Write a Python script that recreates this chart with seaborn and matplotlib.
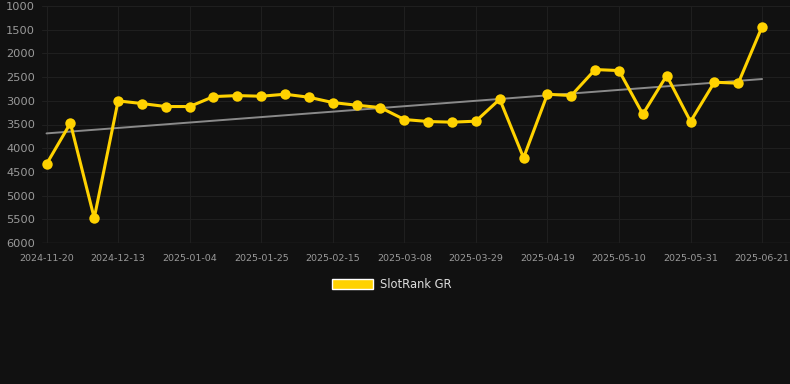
import numpy as np
import pandas as pd
import matplotlib
matplotlib.use("Agg")
import matplotlib.pyplot as plt
import seaborn as sns
from matplotlib.patches import Patch

dates = ['2024-11-20', '2024-11-28', '2024-12-05', '2024-12-13', '2024-12-21', '2024-12-28',
         '2025-01-04', '2025-01-11', '2025-01-18', '2025-01-25', '2025-02-01', '2025-02-08',
         '2025-02-15', '2025-02-22', '2025-03-01', '2025-03-08', '2025-03-15', '2025-03-22',
         '2025-03-29', '2025-04-05', '2025-04-12', '2025-04-19', '2025-04-26', '2025-05-03',
         '2025-05-10', '2025-05-17', '2025-05-24', '2025-05-31', '2025-06-07', '2025-06-14',
         '2025-06-21']
rank = [4335, 3472, 5474, 3002, 3058, 3121, 3121, 2911, 2890, 2904, 2861, 2925,
        3037, 3093, 3143, 3395, 3437, 3451, 3430, 2966, 4203, 2861, 2890, 2341,
        2362, 3282, 2468, 3437, 2608, 2629, 1436]
y_ticks = [1000, 1500, 2000, 2500, 3000, 3500, 4000, 4500, 5000, 5500, 6000]

bg = '#111111'
gold = '#FFD200'

df = pd.DataFrame({'date': dates, 'rank': rank})
df['idx'] = np.arange(len(df))

# linear trend of the series
slope, icpt = np.polyfit(df['idx'], df['rank'], 1)
trend = pd.DataFrame({'idx': [0, len(df) - 1]})
trend['rank'] = icpt + slope * trend['idx']

sns.set_style('dark')
plt.rcParams['font.family'] = ['DejaVu Sans']

fig = plt.figure(figsize=(7.9, 3.84), dpi=100, facecolor=bg)
ax = fig.add_axes([42 / 790, 1 - 243 / 384, 748 / 790, 237 / 384])
ax.set_facecolor(bg)

sns.lineplot(data=trend, x='idx', y='rank', color='#8a8a8a', linewidth=1.4, ax=ax)
sns.lineplot(data=df, x='idx', y='rank', color=gold, linewidth=2.2, marker='o',
             markersize=7.5, markeredgewidth=0, ax=ax)

ax.set_ylim(6000, 1000)
ax.set_yticks(y_ticks)
ax.set_xlim(-0.19, 31.17)
ax.set_xticks(df['idx'][::3])
ax.set_xticklabels(df['date'][::3])
ax.grid(True, color='#1f1f1f', linewidth=0.8)
ax.set_axisbelow(True)
for s in ax.spines.values():
    s.set_visible(False)
ax.axhline(6000, color='#2e2e2e', linewidth=1, zorder=0)
ax.tick_params(axis='y', colors='#9a9a9a', labelsize=8.2, length=0, pad=5)
ax.tick_params(axis='x', colors='#9a9a9a', labelsize=6.8, length=0, pad=8)
ax.set_xlabel('')
ax.set_ylabel('')

fig.legend(handles=[Patch(facecolor=gold, label='SlotRank GR')], loc='center',
           bbox_to_anchor=(392 / 790, 1 - 284 / 384), frameon=False,
           labelcolor='#dddddd', fontsize=8.3, handlelength=3.6, handleheight=0.95,
           handletextpad=0.6)

fig.savefig('out.png', dpi=100, facecolor=bg)
